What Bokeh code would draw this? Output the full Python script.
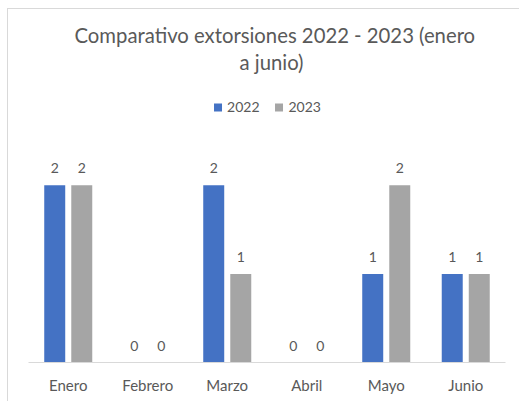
from bokeh.plotting import figure
from bokeh.models import ColumnDataSource, Range1d, FactorRange, Legend, LegendItem, Title
from bokeh.core.properties import value
from bokeh.transform import dodge
from bokeh.embed import file_html
from bokeh.resources import INLINE

months = ["Enero", "Febrero", "Marzo", "Abril", "Mayo", "Junio"]
v2022 = [2, 0, 2, 0, 1, 1]
v2023 = [2, 0, 1, 0, 2, 1]
series_names = ["2022", "2023"]
title_lines = ["Comparativo extorsiones 2022 - 2023 (enero", "a junio)"]

BLUE = "#4472C4"
GRAY = "#A5A5A5"
TXT = "#595959"
FONT = "Lato"

src = ColumnDataSource(dict(
    month=months,
    v2022=v2022,
    v2023=v2023,
    t2022=[str(v) for v in v2022],
    t2023=[str(v) for v in v2023],
))

p = figure(
    width=519, height=401,
    x_range=FactorRange(*months, range_padding=0),
    y_range=Range1d(0, 3.25),
    output_backend="svg", toolbar_location=None,
    y_axis_location=None,
    min_border_left=28, min_border_right=14,
    min_border_top=74, min_border_bottom=39,
)
p.outline_line_color = None
p.border_fill_color = None
p.background_fill_color = None
p.styles = {
    "background": "linear-gradient(#D9D9D9, #D9D9D9) 7px 8px / 1px 100% no-repeat, "
                  "linear-gradient(#D9D9D9, #D9D9D9) 7px 8px / 100% 1px no-repeat, #FFFFFF",
}
p.xgrid.visible = False
p.ygrid.visible = False

off = 0.17
bw = 0.264
r1 = p.vbar(x=dodge("month", -off, range=p.x_range), top="v2022", width=bw,
            source=src, fill_color=BLUE, line_color=None)
r2 = p.vbar(x=dodge("month", off, range=p.x_range), top="v2023", width=bw,
            source=src, fill_color=GRAY, line_color=None)

for col, tcol, dx in (("v2022", "t2022", -off), ("v2023", "t2023", off)):
    p.text(x=dodge("month", dx, range=p.x_range), y=col, text=tcol, source=src,
           text_align="center", text_baseline="middle", y_offset=-17,
           text_font_size="14px", text_color=TXT, text_font=value(FONT))

ax = p.xaxis[0]
ax.axis_line_color = "#D9D9D9"
ax.major_tick_line_color = None
ax.minor_tick_line_color = None
ax.major_tick_out = 0
ax.major_tick_in = 0
ax.minor_tick_out = 0
ax.minor_tick_in = 0
ax.major_label_text_font_size = "15px"
ax.major_label_text_color = TXT
ax.major_label_text_font = FONT
ax.major_label_standoff = 13

legend = Legend(items=[LegendItem(label=series_names[0], renderers=[r1]),
                       LegendItem(label=series_names[1], renderers=[r2])],
                location="top_center", orientation="horizontal",
                glyph_width=10, glyph_height=10, label_standoff=5, spacing=14,
                label_text_font_size="14px", label_text_color=TXT, label_text_font=FONT,
                border_line_color=None, background_fill_alpha=0, margin=24, padding=4)
p.add_layout(legend, "center")

for line, so, dx in zip(reversed(title_lines), (2, 0), (211, 46)):
    p.add_layout(Title(text=line, align="left", offset=dx, standoff=so,
                       text_font_size="20.3px", text_color=TXT, text_font=FONT,
                       text_font_style="normal"), "above")

open("out.html", "w").write(file_html(p, INLINE))
